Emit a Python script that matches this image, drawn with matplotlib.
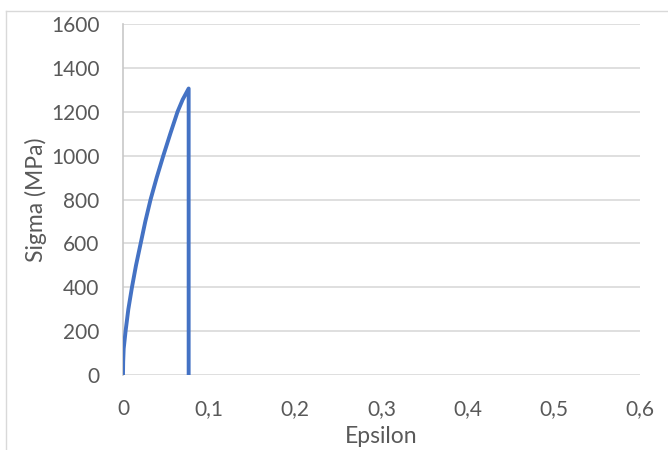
import matplotlib.pyplot as plt
from matplotlib.lines import Line2D
from matplotlib.ticker import FuncFormatter

# stress-strain curve
epsilon = [0.0, 0.0002, 0.0008, 0.003, 0.0062, 0.0104, 0.0151, 0.0205, 0.0259, 0.032,
           0.0391, 0.0468, 0.0549, 0.0633, 0.0692, 0.0762, 0.0762]
sigma = [0, 60, 120, 200, 300, 400, 500, 600, 700, 800,
         900, 1000, 1100, 1200, 1255, 1306, 0]

x_ticks = [0, 0.1, 0.2, 0.3, 0.4, 0.5, 0.6]
y_ticks = [0, 200, 400, 600, 800, 1000, 1200, 1400, 1600]

plt.rcParams['font.family'] = ['Lato', 'DejaVu Sans']

fig = plt.figure(figsize=(6.68, 4.5), dpi=100)
ax = fig.add_axes([123 / 668, 75 / 450, 517 / 668, 351 / 450])

ax.plot(epsilon, sigma, color='#4472C4', lw=2.8, solid_capstyle='round', solid_joinstyle='round', zorder=3)

ax.set_xlim(0, 0.6)
ax.set_ylim(0, 1600)
ax.set_xticks(x_ticks)
ax.set_yticks(y_ticks)
ax.xaxis.set_major_formatter(FuncFormatter(lambda v, p: ('%g' % round(v, 1)).replace('.', ',')))
ax.grid(axis='y', color='#D9D9D9', lw=1.2)
ax.set_axisbelow(True)
for side in ['top', 'right', 'bottom']:
    ax.spines[side].set_visible(False)
ax.spines['left'].set_color('#C8C8C8')
ax.spines['left'].set_linewidth(1.2)
ax.tick_params(length=0, labelsize=15, colors='#595959')
ax.tick_params(axis='x', pad=17)
ax.tick_params(axis='y', pad=17)

ax.set_xlabel('Epsilon', fontsize=16.5, color='#595959', labelpad=5)
ax.set_ylabel('Sigma (MPa)', fontsize=16.5, color='#595959', labelpad=3)

# chart frame
fig.add_artist(Line2D([6 / 668, 1], [1 - 10.5 / 450, 1 - 10.5 / 450], color='#D9D9D9', lw=1, transform=fig.transFigure))
fig.add_artist(Line2D([6 / 668, 6 / 668], [0, 1 - 10.5 / 450], color='#D9D9D9', lw=1, transform=fig.transFigure))

fig.savefig('out.png', dpi=100)
